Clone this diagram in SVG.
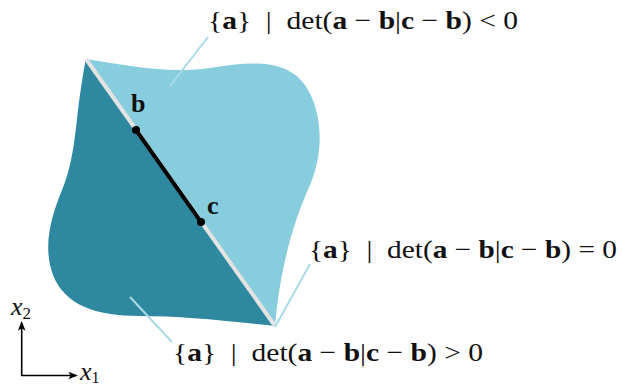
<svg xmlns="http://www.w3.org/2000/svg" width="622" height="388" viewBox="0 0 622 388">
<style>
.lbl{fill:#111}
.b{font-weight:bold}
.lead{stroke:#a9dbe7;stroke-width:2;fill:none}
</style>
<defs>
<marker id="ah" viewBox="0 0 10 10" refX="8" refY="5" markerWidth="6" markerHeight="6" orient="auto">
<path d="M0,1 L10,5 L0,9 L2.5,5 Z" fill="#000"/>
</marker>
</defs>
<g id="region-neg">
<path d="M86,59 C130,66 170,74 210,68 C250,62 285,58 305,85 C322,110 325,150 310,185 C292,225 280,270 275,326 Z" fill="#88cddd"/>
</g>
<g id="region-pos">
<path d="M86,59 L275,326 C220,320 180,316 140,316 C95,316 65,305 53,275 C42,245 52,215 62,190 C75,160 76,120 80,95 C82,80 84,68 86,59 Z" fill="#2e889f"/>
</g>
<g id="line-zero">
<line x1="86" y1="59" x2="275" y2="326" stroke="#e3e3e3" stroke-width="4"/>
</g>
<g font-family="'Liberation Serif', serif" font-size="26">
<g id="segment-bc">
<line x1="136" y1="130" x2="201" y2="222" stroke="#000" stroke-width="4"/>
<circle cx="136" cy="130" r="4" fill="#000"/>
<circle cx="201" cy="222" r="4" fill="#000"/>
<text class="lbl b" x="131" y="112" font-size="26">b</text>
<text class="lbl b" x="207" y="214" font-size="26">c</text>
</g>
<g id="connectors">
<line class="lead" x1="208" y1="37" x2="170" y2="86"/>
<line class="lead" x1="310" y1="264" x2="275" y2="327"/>
<line class="lead" x1="130" y1="297" x2="172" y2="342"/>
</g>
<g id="label-neg">
<text class="lbl" xml:space="preserve" x="208" y="29" font-size="26" textLength="310" lengthAdjust="spacingAndGlyphs">{<tspan class="b">a</tspan>}  |  det(<tspan class="b">a</tspan> − <tspan class="b">b</tspan>|<tspan class="b">c</tspan> − <tspan class="b">b</tspan>) &lt; 0</text>
</g>
<g id="label-zero">
<text class="lbl" xml:space="preserve" x="309" y="258" font-size="26" textLength="308" lengthAdjust="spacingAndGlyphs">{<tspan class="b">a</tspan>}  |  det(<tspan class="b">a</tspan> − <tspan class="b">b</tspan>|<tspan class="b">c</tspan> − <tspan class="b">b</tspan>) = 0</text>
</g>
<g id="label-pos">
<text class="lbl" xml:space="preserve" x="173" y="361" font-size="26" textLength="310" lengthAdjust="spacingAndGlyphs">{<tspan class="b">a</tspan>}  |  det(<tspan class="b">a</tspan> − <tspan class="b">b</tspan>|<tspan class="b">c</tspan> − <tspan class="b">b</tspan>) &gt; 0</text>
</g>
<g id="axes">
<line x1="21.7" y1="375.5" x2="21.7" y2="323" stroke="#000" stroke-width="1.6" marker-end="url(#ah)"/>
<line x1="20.9" y1="375.5" x2="76" y2="375.5" stroke="#000" stroke-width="1.6" marker-end="url(#ah)"/>
<text class="lbl" x="11" y="315" font-size="26" font-style="italic">x<tspan font-size="17" dy="4" font-style="normal">2</tspan></text>
<text class="lbl" x="80" y="380" font-size="26" font-style="italic">x<tspan font-size="16" dy="3" font-style="normal">1</tspan></text>
</g>
</g>
</svg>
